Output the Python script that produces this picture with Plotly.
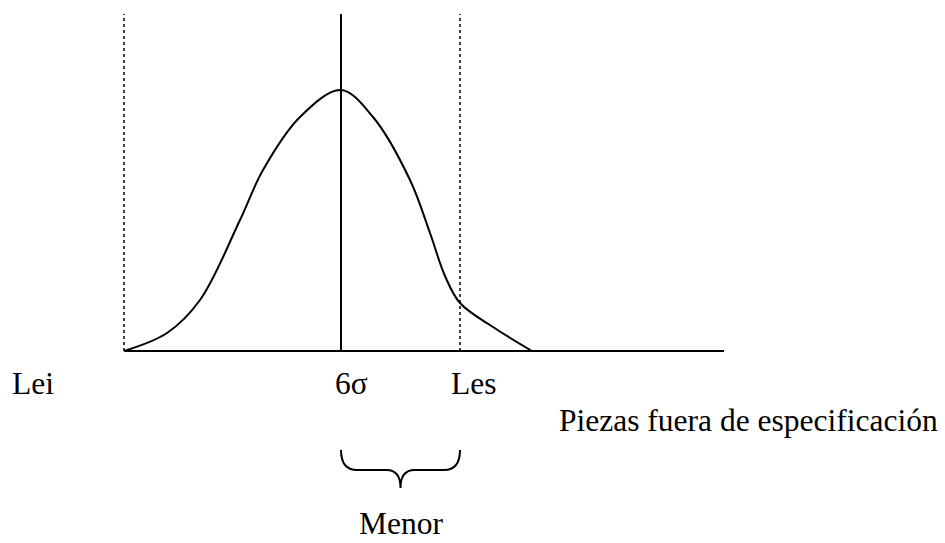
import plotly.graph_objects as go

# Distribution curve (horizontal position, height above the baseline)
curve_x = [124, 167, 200, 240, 263, 300, 341,
           373, 410, 430, 445, 460, 493, 532]
curve_y = [0, 18, 51, 131, 181, 234, 261,
           234, 171, 118, 75, 48, 24, 0]

# Reference positions
lei_x = 124          # lower specification limit
centre_x = 341       # process centre
les_x = 460          # upper specification limit
axis_end_x = 724
guide_top = 337

# Labels
labels = ["Lei", "6σ", "Les"]
label_x = [33, 351, 473]
label_y = -32
xaxis_title = "Piezas fuera de especificación"
brace_label = "Menor"

fig = go.Figure()

# Baseline
fig.add_trace(go.Scatter(x=[lei_x, axis_end_x], y=[0, 0], mode="lines",
                         line=dict(color="black", width=2), hoverinfo="skip"))
# Specification limits (dotted)
for xv in (lei_x, les_x):
    fig.add_trace(go.Scatter(x=[xv, xv], y=[0, guide_top], mode="lines",
                             line=dict(color="black", width=1.5, dash="dot"),
                             hoverinfo="skip"))
# Centre line
fig.add_trace(go.Scatter(x=[centre_x, centre_x], y=[0, guide_top], mode="lines",
                         line=dict(color="black", width=2), hoverinfo="skip"))
# Bell curve
fig.add_trace(go.Scatter(x=curve_x, y=curve_y, mode="lines",
                         line=dict(color="black", width=2, shape="spline",
                                   smoothing=1.0),
                         hoverinfo="skip"))

# Brace under the centre-to-upper-limit interval
b_top, b_mid, b_tip = -99, -119, -137
mid = (centre_x + les_x) / 2
path = (f"M {centre_x},{b_top} Q {centre_x},{b_mid} {centre_x + 16},{b_mid} "
        f"L {mid - 14},{b_mid} Q {mid},{b_mid} {mid},{b_tip} "
        f"Q {mid},{b_mid} {mid + 14},{b_mid} "
        f"L {les_x - 16},{b_mid} Q {les_x},{b_mid} {les_x},{b_top}")
fig.add_shape(type="path", path=path, xref="x", yref="y",
              line=dict(color="black", width=2))

font = dict(family="Liberation Serif, Times New Roman, serif", size=31.5,
            color="black")
for t, xv in zip(labels, label_x):
    fig.add_annotation(x=xv, y=label_y, text=t, showarrow=False, font=font,
                       xanchor="center", yanchor="middle")
fig.add_annotation(x=748, y=-69, text=xaxis_title, showarrow=False,
                   font=font, xanchor="center", yanchor="middle")
fig.add_annotation(x=mid, y=-192, text=brace_label, showarrow=False,
                   font=font, xanchor="center", yanchor="bottom")

fig.update_layout(
    width=945, height=543,
    margin=dict(l=0, r=0, t=0, b=0),
    paper_bgcolor="white", plot_bgcolor="white",
    showlegend=False,
    xaxis=dict(range=[0, 945], visible=False, fixedrange=True),
    yaxis=dict(range=[-192, 351], visible=False, fixedrange=True),
)

fig.write_html("out.html")
